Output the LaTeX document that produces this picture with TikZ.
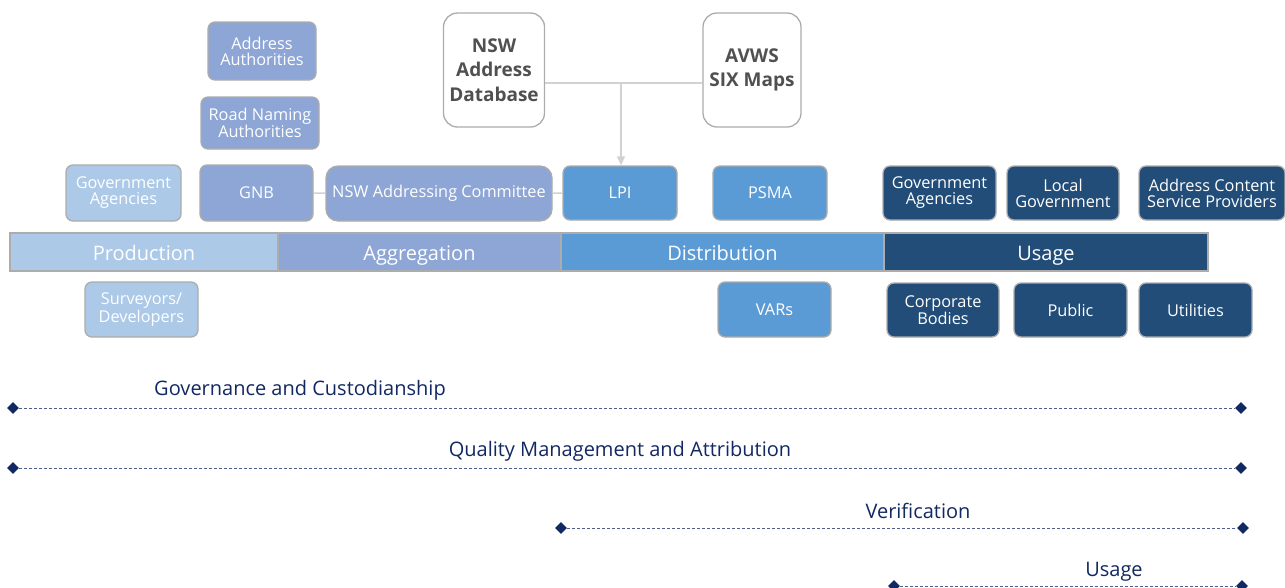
\documentclass[tikz,border=0pt]{standalone}
\usepackage{fontspec}
\setmainfont{Open Sans}
\usetikzlibrary{
        arrows.meta,
        positioning,
        shapes.geometric
    }
\definecolor{prodblue}{RGB}{173,201,232}
\definecolor{aggrblue}{RGB}{141,166,213}
\definecolor{distblue}{RGB}{91,155,213}
\definecolor{usenavy}{RGB}{33,77,120}
\definecolor{boxgray}{RGB}{172,172,172}
\definecolor{linkgray}{RGB}{210,210,210}
\definecolor{darktext}{RGB}{80,80,80}
\definecolor{lifenavy}{RGB}{18,40,98}
\tikzset{
    box/.style={draw=boxgray,line width=1.3pt,rounded corners=7pt,text=white,align=center,
        inner sep=0pt,minimum width=113,minimum height=55,
        font=\fontsize{16.3}{16}\selectfont},
    prodbox/.style={box,fill=prodblue},
    aggrbox/.style={box,fill=aggrblue},
    distbox/.style={box,fill=distblue},
    usebox/.style={box,fill=usenavy},
    sysbox/.style={draw=boxgray,line width=1.3pt,rounded corners=14pt,fill=white,text=darktext,
        align=center,inner sep=0pt,minimum width=101,minimum height=114,
        font=\fontsize{19}{24.5}\selectfont\bfseries},
    stage/.style={draw=boxgray,line width=1.3pt,text=white,inner sep=0pt,minimum height=38,
        text height=17pt,text depth=1pt,font=\fontsize{20}{20}\selectfont},
    link/.style={draw=linkgray,line width=1.5pt},
    dot/.style={diamond,fill=lifenavy,inner sep=0pt,minimum size=12pt},
    lifeline/.style={draw=lifenavy!75!white,line width=1pt,dash pattern=on 3pt off 2pt},
    lifetext/.style={text=lifenavy,font=\fontsize{20}{20}\selectfont}
}
\begin{document}
\begin{tikzpicture}[x=1pt,y=-1pt]
    \useasboundingbox (0,0) rectangle (1285,587);
    % stages
    \node[stage,fill=prodblue,minimum width=268] (prod)  at (144,252)   {Production};
    \node[stage,fill=aggrblue,minimum width=283] (aggr)  at (419.5,252) {Aggregation};
    \node[stage,fill=distblue,minimum width=323] (dist)  at (722.5,252) {Distribution};
    \node[stage,fill=usenavy,minimum width=324]  (usage) at (1046,252)  {Usage};
    % production and aggregation
    \node[aggrbox,minimum width=108,minimum height=58] (addrauth)   at (262,51)  {Address\\Authorities};
    \node[aggrbox,minimum width=118,minimum height=52] (roadnaming) at (260,123) {Road Naming\\Authorities};
    \node[prodbox,minimum width=115,minimum height=56] (govag)      at (123.5,193) {Government\\Agencies};
    \node[aggrbox,minimum height=56]                   (gnb)        at (256.5,193) {GNB};
    \node[aggrbox,minimum width=226,minimum height=55,rounded corners=12pt] (nswac) at (439,193.5) {NSW Addressing Committee};
    \node[prodbox,minimum height=55]                   (surveyors)  at (141.5,309.5) {Surveyors/\\Developers};
    % distribution
    \node[distbox,minimum width=114,minimum height=54] (lpi)  at (620,193) {LPI};
    \node[distbox,minimum width=114,minimum height=54] (psma) at (770,193) {PSMA};
    \node[distbox,minimum height=55]                   (vars) at (774.5,309.5) {VARs};
    \node[sysbox]                   (nswdb) at (494,70) {NSW\\Address\\Database};
    \node[sysbox,minimum width=98] (avws)  at (752,70) {AVWS\\SIX Maps};
    % usage
    \node[usebox,minimum height=54]                    (govuse)   at (939.5,193) {Government\\Agencies};
    \node[usebox,minimum width=112,minimum height=54]  (localgov) at (1063,193)  {Local\\Government};
    \node[usebox,minimum width=146,minimum height=54]  (acsp)     at (1212,193)  {Address Content\\Service Providers};
    \node[usebox,minimum width=112,minimum height=54]  (corp)     at (943,310)   {Corporate\\Bodies};
    \node[usebox,minimum height=54]                    (public)   at (1070.5,310) {Public};
    \node[usebox,minimum height=54]                    (util)     at (1195.5,310) {Utilities};
    % links
    \coordinate (join) at (621,83);
    \path[link] (nswdb.east |- join) -- (avws.west |- join);
    \path[link,-{Triangle[length=9pt,width=8pt]}] (join) -- (lpi.north -| join);
    \path[link] (gnb) -- (nswac) (nswac) -- (lpi);
    % lifelines
    \node[dot] (gov1) at (13,408)   {};
    \node[dot] (gov2) at (1241,408) {};
    \node[dot] (qual1) at (13,468)   {};
    \node[dot] (qual2) at (1241,468) {};
    \node[dot] (ver1) at (561,528)  {};
    \node[dot] (ver2) at (1243,528) {};
    \node[dot] (use1) at (894,586)  {};
    \node[dot] (use2) at (1242,586) {};
    \path[lifeline] (gov1) -- (gov2) (qual1) -- (qual2) (ver1) -- (ver2) (use1) -- (use2);
    \node[lifetext] at (300,390)  {Governance and Custodianship};
    \node[lifetext] at (620,451)  {Quality Management and Attribution};
    \node[lifetext] at (918,511)  {Verification};
    \node[lifetext] at (1114,572) {Usage};
\end{tikzpicture}
\end{document}
